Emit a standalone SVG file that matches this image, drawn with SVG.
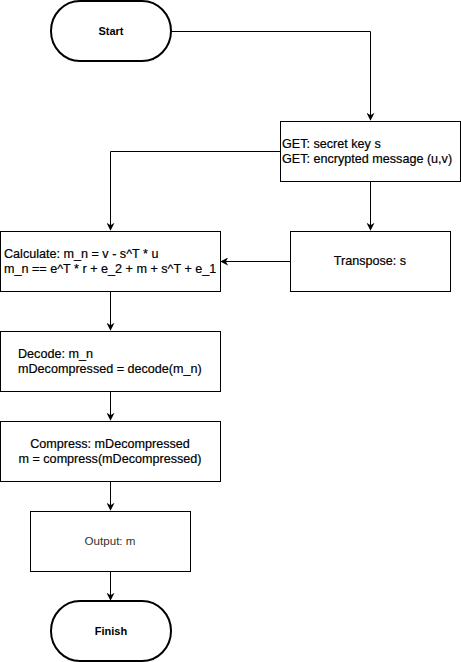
<svg xmlns="http://www.w3.org/2000/svg" width="461" height="662" viewBox="0 0 461 662">
<defs>
<marker id="arr" viewBox="0 0 10 10" refX="9" refY="5" markerWidth="8" markerHeight="8" markerUnits="userSpaceOnUse" orient="auto">
<path d="M0,0 L10,5 L0,10 L3,5 Z" fill="#000"/>
</marker>
</defs>
<style>
.box{fill:#fff;stroke:#000;stroke-width:1}
.term{fill:#fff;stroke:#000;stroke-width:2}
.t{font-family:"Liberation Sans",Arial,sans-serif;font-size:12.6px;fill:#000;stroke:#000;stroke-width:0.2}
.tb{font-family:"Liberation Sans",Arial,sans-serif;font-size:11px;font-weight:bold;fill:#000}
.tg{font-family:"Liberation Sans",Arial,sans-serif;font-size:11.6px;fill:#333}
.c{fill:none;stroke:#000;stroke-width:1;marker-end:url(#arr)}
</style>
<rect width="461" height="662" fill="#fff"/>
<g id="connectors">
<path class="c" d="M170.5,31.5 H370.5 V120"/>
<path class="c" d="M280,151.5 H110.5 V230"/>
<path class="c" d="M370.5,181 V230"/>
<path class="c" d="M290,261.5 H221"/>
<path class="c" d="M110.5,291 V330"/>
<path class="c" d="M110.5,391 V420"/>
<path class="c" d="M110.5,481 V510"/>
<path class="c" d="M110.5,571 V600"/>
</g>
<g id="start">
<rect class="term" x="51" y="1" width="120" height="60" rx="29" ry="30"/>
<text class="tb" x="111" y="35" text-anchor="middle">Start</text>
</g>
<g id="get">
<rect class="box" x="280.5" y="121.5" width="180" height="60"/>
<text class="t" x="282" y="148">GET: secret key s</text>
<text class="t" x="282" y="163">GET: encrypted message (u,v)</text>
</g>
<g id="calculate">
<rect class="box" x="0.5" y="231.5" width="220" height="60"/>
<text class="t" x="4" y="258">Calculate: m_n = v - s^T * u</text>
<text class="t" x="4" y="273">m_n == e^T * r + e_2 + m + s^T + e_1</text>
</g>
<g id="transpose">
<rect class="box" x="290.5" y="231.5" width="160" height="60"/>
<text class="t" x="370" y="265" text-anchor="middle">Transpose: s</text>
</g>
<g id="decode">
<rect class="box" x="0.5" y="331.5" width="220" height="60"/>
<text class="t" x="18" y="358">Decode: m_n</text>
<text class="t" x="18" y="373">mDecompressed = decode(m_n)</text>
</g>
<g id="compress">
<rect class="box" x="0.5" y="421.5" width="220" height="60"/>
<text class="t" x="110" y="448" text-anchor="middle">Compress: mDecompressed</text>
<text class="t" x="110" y="463" text-anchor="middle">m = compress(mDecompressed)</text>
</g>
<g id="output">
<rect class="box" x="30.5" y="511.5" width="160" height="60"/>
<text class="tg" x="110" y="545" text-anchor="middle">Output: m</text>
</g>
<g id="finish">
<rect class="term" x="51" y="601" width="120" height="60" rx="29" ry="30"/>
<text class="tb" x="111" y="635" text-anchor="middle">Finish</text>
</g>
</svg>
